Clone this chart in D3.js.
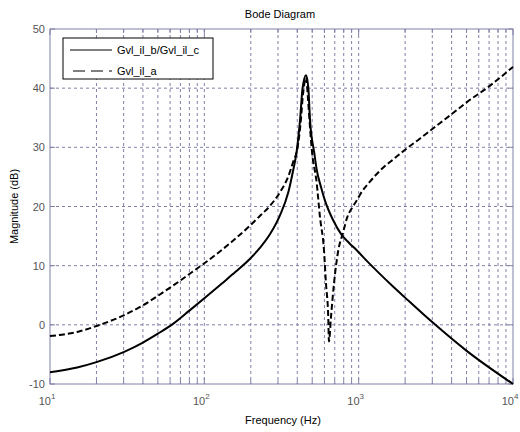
<!DOCTYPE html>
<html>
<head>
<meta charset="utf-8">
<script src="https://cdn.jsdelivr.net/npm/d3@7"></script>
<style>
  body { margin: 0; background: #fff; font-family: "Liberation Sans", Arial, sans-serif; }
  .grid line { stroke: #8080a8; stroke-dasharray: 3,3; stroke-width: 1; }
  .tick-label { font-size: 11px; fill: #555; }
</style>
</head>
<body>
<script>
// Gvl_il_b/Gvl_il_c (solid)
var freqB = [10, 15, 20, 30, 40, 50, 63, 80, 100, 130, 160, 200, 229, 266, 309, 350, 377, 396, 417, 433, 456, 472, 484, 516, 535, 570, 605, 680, 776, 870, 971, 1150, 1361, 1650, 2000, 3048, 5012, 10000];
var magB  = [-8.0, -7.2, -6.3, -4.6, -3.0, -1.5, 0.2, 2.4, 4.5, 7.0, 9.0, 11.3, 13.0, 15.3, 18.5, 22.4, 26.2, 29.2, 34.6, 40.0, 42.2, 40.0, 34.6, 29.0, 26.2, 23.3, 21.0, 17.8, 15.2, 13.8, 12.6, 10.6, 8.7, 6.6, 4.6, 0.3, -4.4, -10.0];

// Gvl_il_a (dashed)
var freqA = [10, 15, 20, 30, 40, 50, 60, 70, 80, 100, 150, 200, 229, 266, 309, 350, 377, 401, 420, 436, 456, 470, 485, 497, 535, 561, 596, 614, 635, 642, 662, 692, 738, 788, 844, 923, 971, 1020, 1183, 1445, 1700, 2000, 2500, 3000, 4000, 5000, 7000, 10000];
var magA  = [-1.9, -1.2, -0.2, 1.6, 3.3, 4.9, 6.3, 7.5, 8.6, 10.4, 14.0, 16.9, 18.4, 20.1, 22.4, 25.1, 27.6, 29.8, 34.0, 39.0, 41.8, 38.0, 33.0, 29.6, 23.9, 18.3, 12.6, 7.0, 1.4, -2.8, 1.4, 7.0, 12.6, 15.4, 18.2, 20.1, 21.0, 22.0, 24.2, 26.6, 28.1, 29.6, 31.5, 33.1, 35.6, 37.6, 40.3, 43.6];

var yTicks = [-10, 0, 10, 20, 30, 40, 50];
var xDecades = [1, 2, 3, 4];
var legendNames = ["Gvl_il_b/Gvl_il_c", "Gvl_il_a"];

var W = 520, H = 432;
var margin = {top: 29, right: 7, bottom: 48, left: 50},
    width = W - margin.left - margin.right,
    height = H - margin.top - margin.bottom;

var svg = d3.select("body").append("svg")
    .attr("width", W)
    .attr("height", H);

var g = svg.append("g")
    .attr("transform", "translate(" + margin.left + "," + margin.top + ")");

var x = d3.scaleLog().domain([10, 10000]).range([0, width]);
var y = d3.scaleLinear().domain([-10, 50]).range([height, 0]);

// all log ticks (1..9 per decade)
var minor = [];
for (var d = 1; d < 4; d++) {
  for (var m = 1; m < 10; m++) minor.push(m * Math.pow(10, d));
}
minor.push(10000);

// vertical grid
g.append("g").attr("class", "grid")
  .selectAll("line").data(minor.filter(function(v) { return v > 10 && v < 10000; }))
  .enter().append("line")
    .attr("x1", function(d) { return x(d); })
    .attr("x2", function(d) { return x(d); })
    .attr("y1", 0).attr("y2", height);

// horizontal grid
g.append("g").attr("class", "grid")
  .selectAll("line").data(yTicks.filter(function(v) { return v > -10 && v < 50; }))
  .enter().append("line")
    .attr("x1", 0).attr("x2", width)
    .attr("y1", function(d) { return y(d); })
    .attr("y2", function(d) { return y(d); });

// tick marks (inside)
var tickCol = "#8080a8";
g.append("g").selectAll("line").data(minor)
  .enter().append("line")
    .attr("x1", function(d) { return x(d); }).attr("x2", function(d) { return x(d); })
    .attr("y1", height).attr("y2", function(d) { return height - (Math.log10(d) % 1 === 0 ? 6 : 4); })
    .attr("stroke", tickCol);
g.append("g").selectAll("line").data(minor)
  .enter().append("line")
    .attr("x1", function(d) { return x(d); }).attr("x2", function(d) { return x(d); })
    .attr("y1", 0).attr("y2", function(d) { return (Math.log10(d) % 1 === 0 ? 6 : 4); })
    .attr("stroke", tickCol);
g.append("g").selectAll("line").data(yTicks)
  .enter().append("line")
    .attr("x1", 0).attr("x2", 5)
    .attr("y1", function(d) { return y(d); }).attr("y2", function(d) { return y(d); })
    .attr("stroke", tickCol);
g.append("g").selectAll("line").data(yTicks)
  .enter().append("line")
    .attr("x1", width - 5).attr("x2", width)
    .attr("y1", function(d) { return y(d); }).attr("y2", function(d) { return y(d); })
    .attr("stroke", tickCol);

// frame
g.append("rect")
  .attr("width", width).attr("height", height)
  .attr("fill", "none").attr("stroke", tickCol).attr("stroke-width", 1);

// y labels
g.append("g").selectAll("text").data(yTicks)
  .enter().append("text")
    .attr("class", "tick-label")
    .attr("x", -5)
    .attr("y", function(d) { return y(d) + 4; })
    .attr("text-anchor", "end")
    .text(function(d) { return d; });

// x labels 10^n
var xl = g.append("g").selectAll("text").data(xDecades)
  .enter().append("text")
    .attr("class", "tick-label")
    .attr("x", function(d) { return x(Math.pow(10, d)) - 3; })
    .attr("y", height + 21)
    .attr("text-anchor", "middle");
xl.append("tspan").text("10");
xl.append("tspan").attr("dy", -6).attr("font-size", "8px").text(function(d) { return d; });

// curves
var line = d3.line()
  .x(function(d) { return x(d[0]); })
  .y(function(d) { return y(d[1]); })
  .curve(d3.curveMonotoneX);

g.append("path")
  .datum(d3.zip(freqB, magB))
  .attr("d", line)
  .attr("fill", "none")
  .attr("stroke", "#000")
  .attr("stroke-width", 2);

g.append("path")
  .datum(d3.zip(freqA, magA))
  .attr("d", line)
  .attr("fill", "none")
  .attr("stroke", "#000")
  .attr("stroke-width", 2)
  .attr("stroke-dasharray", "6,3");

// legend
var lg = g.append("g").attr("transform", "translate(13,9)");
lg.append("rect")
  .attr("width", 150).attr("height", 41)
  .attr("fill", "#fff").attr("stroke", "#000");
lg.selectAll("line").data(legendNames)
  .enter().append("line")
    .attr("x1", 7).attr("x2", 49)
    .attr("y1", function(d, i) { return 12 + i * 21; })
    .attr("y2", function(d, i) { return 12 + i * 21; })
    .attr("stroke", "#000")
    .attr("stroke-dasharray", function(d, i) { return i ? "12,6" : null; })
    .attr("stroke-dashoffset", function(d, i) { return i ? -3 : 0; });
lg.selectAll("text").data(legendNames)
  .enter().append("text")
    .attr("x", 54)
    .attr("y", function(d, i) { return 16 + i * 21; })
    .attr("font-size", "11px")
    .attr("fill", "#000")
    .text(function(d) { return d; });

// titles
svg.append("text")
  .attr("x", 280).attr("y", 18)
  .attr("text-anchor", "middle")
  .attr("font-size", "11px")
  .text("Bode Diagram");

svg.append("text")
  .attr("x", 283).attr("y", 424)
  .attr("text-anchor", "middle")
  .attr("font-size", "11px")
  .text("Frequency  (Hz)");

svg.append("text")
  .attr("transform", "translate(18," + (margin.top + height / 2) + ") rotate(-90)")
  .attr("text-anchor", "middle")
  .attr("font-size", "11px")
  .text("Magnitude (dB)");
</script>
</body>
</html>
